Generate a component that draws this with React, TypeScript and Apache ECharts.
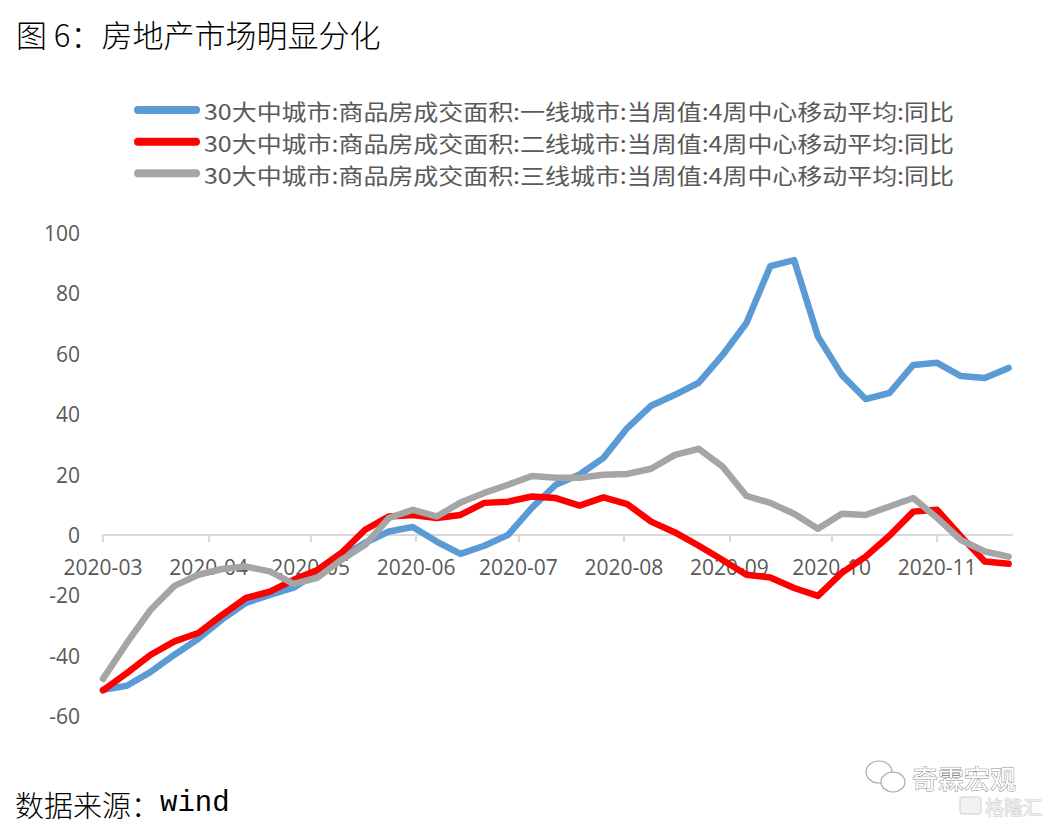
import React, { useEffect, useRef } from "react";
import * as echarts from "echarts";

// Weekly observation dates
const dates = [
  "2020-03-01", "2020-03-08", "2020-03-15", "2020-03-22", "2020-03-29",
  "2020-04-05", "2020-04-12", "2020-04-19", "2020-04-26",
  "2020-05-03", "2020-05-10", "2020-05-17", "2020-05-24", "2020-05-31",
  "2020-06-07", "2020-06-14", "2020-06-21", "2020-06-28",
  "2020-07-05", "2020-07-12", "2020-07-19", "2020-07-26",
  "2020-08-02", "2020-08-09", "2020-08-16", "2020-08-23", "2020-08-30",
  "2020-09-06", "2020-09-13", "2020-09-20", "2020-09-27",
  "2020-10-04", "2020-10-11", "2020-10-18", "2020-10-25",
  "2020-11-01", "2020-11-08", "2020-11-15", "2020-11-22",
];

// 一线城市
const tier1 = [
  -51.3, -50, -45.4, -39.7, -34.4, -28, -22.5, -19.9, -17.5,
  -12.5, -7.3, -2.6, 1.1, 2.6, -2.2, -6.3, -3.6, 0,
  9, 16.6, 20, 25.5, 35.4, 42.8, 46.4, 50.4, 59.6,
  70.2, 89, 91, 65.7, 53, 45, 47, 56.3, 57, 52.6, 52, 55.3,
];

// 二线城市
const tier2 = [
  -51.5, -45.8, -39.7, -35.3, -32.5, -26.5, -20.9, -18.8, -14.9,
  -11.6, -6, 1.7, 6.1, 6.6, 5.6, 6.6, 10.6, 11,
  12.7, 12.2, 9.7, 12.4, 10.2, 4.4, 0.8, -3.6, -8.3,
  -13.2, -14.1, -17.6, -20.2, -12.6, -7.2, -0.3, 7.7, 8.3, -0.5, -8.8, -9.6,
];

// 三线城市
const tier3 = [
  -47.7, -35.8, -24.8, -16.9, -13.2, -11.3, -10.5, -12.1, -16.2,
  -14.2, -8.3, -3.3, 5.6, 8.3, 6.1, 10.7, 13.9, 16.6,
  19.5, 18.9, 18.9, 19.9, 20.2, 21.9, 26.5, 28.5, 22.6,
  12.9, 10.6, 7, 2, 7, 6.6, 9.4, 12.2, 5.6, -1.7, -5.5, -7.2,
];

const seriesNames = [
  "30大中城市:商品房成交面积:一线城市:当周值:4周中心移动平均:同比",
  "30大中城市:商品房成交面积:二线城市:当周值:4周中心移动平均:同比",
  "30大中城市:商品房成交面积:三线城市:当周值:4周中心移动平均:同比",
];

const monthTicks = [
  "2020-03-01", "2020-04-01", "2020-05-01", "2020-06-01", "2020-07-01",
  "2020-08-01", "2020-09-01", "2020-10-01", "2020-11-01",
];
const monthLabels = [
  "2020-03", "2020-04", "2020-05", "2020-06", "2020-07",
  "2020-08", "2020-09", "2020-10", "2020-11",
];
const xMin = "2020-03-01";
const xMax = "2020-11-23";
const yMin = -60;
const yMax = 100;
const yStep = 20;

const titleText = "图 6：房地产市场明显分化";
const sourceLabel = "数据来源：";
const sourceName = "wind";
const watermark = "奇霖宏观";
const watermark2 = "格隆汇";

const colors = ["#5B9BD5", "#FF0000", "#A5A5A5"];

// day offset of a date string from the axis start (a date scale, not data)
function dayOf(s: string): number {
  const [y, m, d] = s.split("-").map(Number);
  const [y0, m0, d0] = xMin.split("-").map(Number);
  return Math.round((Date.UTC(y, m - 1, d) - Date.UTC(y0, m0 - 1, d0)) / 86400000);
}

export default function App() {
  const ref = useRef<HTMLDivElement>(null);

  useEffect(() => {
    if (!ref.current) return;
    const chart = echarts.init(ref.current, undefined, { renderer: "svg" });
    const labelFont = '"Open Sans", "Noto Sans", sans-serif';
    const cjk = '"Noto Sans CJK SC", sans-serif';
    const values = [tier1, tier2, tier3];
    const tickDays = monthTicks.map(dayOf);
    const labelMap: Record<number, string> = {};
    tickDays.forEach((d, i) => (labelMap[d] = monthLabels[i]));

    const gridTop = 233;
    const gridBottom = 108;
    const gridH = 824 - gridTop - gridBottom;
    const zeroOffset = -(gridH * (0 - yMin)) / (yMax - yMin);

    const legendRows = [110, 141.7, 173.3];
    const legendGraphics: any[] = [];
    seriesNames.forEach((name, k) => {
      legendGraphics.push({
        type: "rect",
        shape: { x: 134, y: legendRows[k] - 4, width: 66, height: 8, r: 4 },
        style: { fill: colors[k] },
      });
      legendGraphics.push({
        type: "text",
        x: 204,
        y: legendRows[k] + 1,
        scaleX: 1.135,
        style: {
          text: name,
          fill: "#595959",
          font: '22px "Noto Sans CJK SC"',
          verticalAlign: "middle",
        },
      });
    });

    chart.setOption({
      animation: false,
      backgroundColor: "#ffffff",
      title: [
        {
          text: titleText,
          left: 11,
          top: 13,
          textStyle: { fontSize: 31, fontWeight: 300, color: "#000", fontFamily: cjk },
        },
        {
          text: "{a|" + sourceLabel + "}{b|" + sourceName + "}",
          left: 10,
          top: 784,
          textStyle: {
            fontWeight: "normal",
            rich: {
              a: { fontSize: 29, color: "#000", fontFamily: cjk, fontWeight: 300 },
              b: { fontSize: 29, color: "#000", fontFamily: '"Liberation Mono", monospace', fontWeight: "normal" },
            },
          },
        },
      ],
      grid: { left: 103, right: 37, top: gridTop, bottom: gridBottom, containLabel: false },
      xAxis: {
        type: "value",
        min: 0,
        max: dayOf(xMax),
        position: "bottom",
        offset: zeroOffset,
        axisLine: { onZero: false, lineStyle: { color: "#D9D9D9", width: 2 } },
        axisTick: {
          show: true,
          length: 7,
          lineStyle: { color: "#D9D9D9", width: 2 },
          customValues: tickDays,
        },
        axisLabel: {
          customValues: tickDays,
          color: "#595959",
          fontSize: 21,
          fontFamily: labelFont,
          margin: 21.5,
          formatter: (v: number) => labelMap[Math.round(v)] ?? "",
        },
        splitLine: { show: false },
      },
      yAxis: {
        type: "value",
        min: yMin,
        max: yMax,
        interval: yStep,
        axisLine: { show: false },
        axisTick: { show: false },
        splitLine: { show: false },
        axisLabel: { color: "#595959", fontSize: 21, fontFamily: labelFont, margin: 23 },
      },
      series: seriesNames.map((name, k) => ({
        name,
        type: "line",
        symbol: "none",
        color: colors[k],
        lineStyle: { width: 6.5, color: colors[k], cap: "round", join: "round" },
        data: dates.map((d, i) => [dayOf(d), values[k][i]]),
      })),
      graphic: [
        ...legendGraphics,
        {
          type: "ellipse",
          shape: { cx: 879, cy: 772, rx: 13, ry: 11 },
          style: { fill: "#fff", stroke: "#aaa", lineWidth: 1.2 },
        },
        {
          type: "ellipse",
          shape: { cx: 893, cy: 782, rx: 12, ry: 10 },
          style: { fill: "#fff", stroke: "#aaa", lineWidth: 1.2 },
        },
        {
          type: "text",
          x: 912,
          y: 777,
          style: {
            text: watermark,
            fill: "#ffffff",
            stroke: "#8c8c8c",
            lineWidth: 1,
            font: '26px "Noto Sans CJK SC"',
            verticalAlign: "middle",
          },
        },
        {
          type: "rect",
          shape: { x: 960, y: 797, width: 21, height: 17, r: 2 },
          style: { fill: "#f2f2f2", stroke: "#cfcfcf", lineWidth: 1 },
        },
        {
          type: "text",
          x: 985,
          y: 806,
          style: {
            text: watermark2,
            fill: "#eeeeee",
            stroke: "#c8c8c8",
            lineWidth: 0.8,
            font: '19px "Noto Sans CJK SC"',
            verticalAlign: "middle",
          },
        },
      ],
    });

    return () => chart.dispose();
  }, []);

  return (
    <div
      ref={ref}
      style={{ position: "absolute", left: 0, top: 0, width: 1049, height: 824 }}
    />
  );
}
